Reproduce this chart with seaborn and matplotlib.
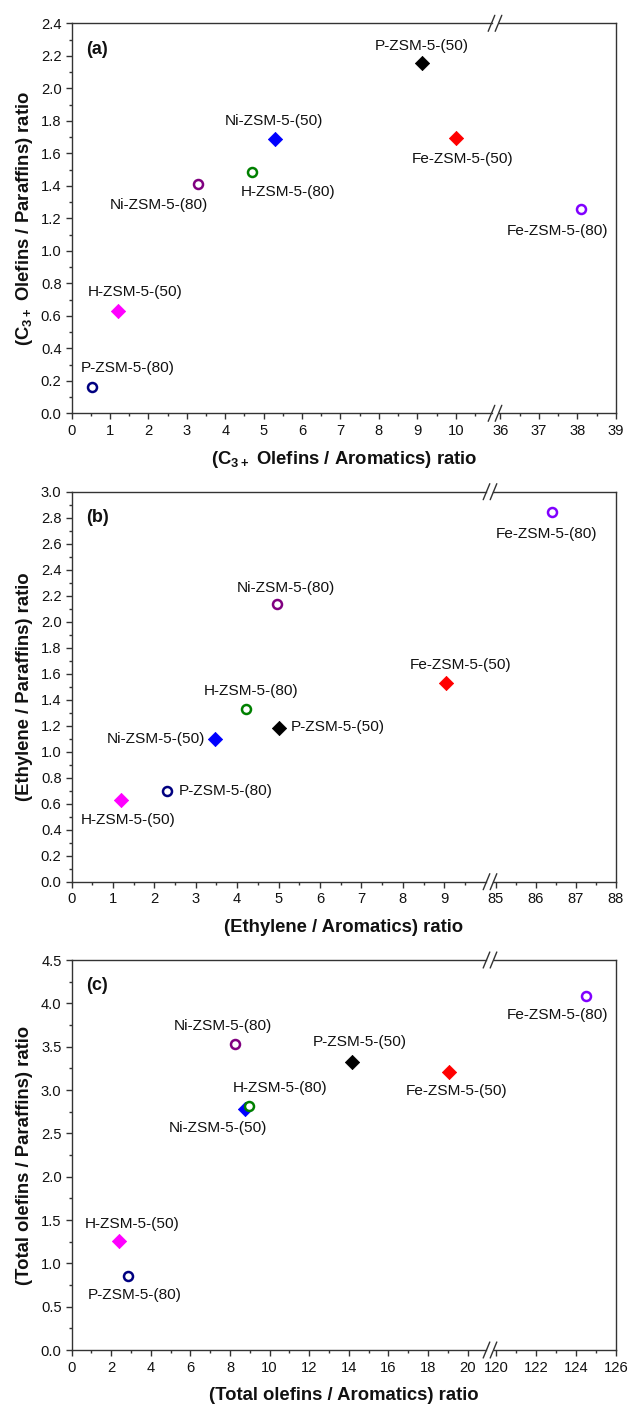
import numpy as np
import matplotlib
matplotlib.use("Agg")
import matplotlib.pyplot as plt
import seaborn as sns
import pandas as pd
from matplotlib.lines import Line2D
from matplotlib.ticker import FixedLocator, FormatStrFormatter

# ---------------------------------------------------------------------------
# Data
# ---------------------------------------------------------------------------
catalysts = ["P-ZSM-5-(50)", "Ni-ZSM-5-(50)", "H-ZSM-5-(50)", "Fe-ZSM-5-(50)",
             "P-ZSM-5-(80)", "Ni-ZSM-5-(80)", "H-ZSM-5-(80)", "Fe-ZSM-5-(80)"]

# (a) C3+ olefins
c3_olefins_aromatics = [9.11, 5.30, 1.21, 10.00, 0.54, 3.28, 4.71, 38.09]
c3_olefins_paraffins = [2.154, 1.686, 0.632, 1.692, 0.164, 1.411, 1.487, 1.255]

# (b) ethylene
ethylene_aromatics = [5.00, 3.46, 1.20, 9.04, 2.30, 4.96, 4.22, 86.41]
ethylene_paraffins = [1.179, 1.095, 0.628, 1.531, 0.700, 2.133, 1.331, 2.841]

# (c) total olefins
total_olefins_aromatics = [14.15, 8.74, 2.42, 19.08, 2.85, 8.27, 8.96, 124.51]
total_olefins_paraffins = [3.327, 2.777, 1.254, 3.212, 0.858, 3.535, 2.815, 4.088]

# ---------------------------------------------------------------------------
# Styling
# ---------------------------------------------------------------------------
colors = {
    "P-ZSM-5-(50)": "#000000", "Ni-ZSM-5-(50)": "#0000FF",
    "H-ZSM-5-(50)": "#FF00FF", "Fe-ZSM-5-(50)": "#FF0000",
    "P-ZSM-5-(80)": "#000080", "Ni-ZSM-5-(80)": "#800080",
    "H-ZSM-5-(80)": "#008000", "Fe-ZSM-5-(80)": "#8000FF",
}
open_marker = {c: c.endswith("(80)") for c in catalysts}

sns.set_style("ticks")
plt.rcParams["font.family"] = ["Liberation Sans", "DejaVu Sans"]
plt.rcParams["mathtext.fontset"] = "custom"
plt.rcParams["mathtext.rm"] = "Liberation Sans"
plt.rcParams["mathtext.bf"] = "Liberation Sans:bold"
plt.rcParams["mathtext.default"] = "bf"

FIG_W, FIG_H = 629, 1406
SPINE = "#333333"
TICK_FS = 10.6
LABEL_FS = 11.1
TITLE_FS = 13.3

fig = plt.figure(figsize=(FIG_W / 100, FIG_H / 100), dpi=100)
fig.patch.set_facecolor("white")


def fx(px):
    return px / FIG_W


def fy(py):
    return 1 - py / FIG_H


# label offsets in pixels (dx, dy upward, horizontal alignment)
label_offsets = {
    "a": {
        "P-ZSM-5-(50)": (0, 17.5, "center"), "Ni-ZSM-5-(50)": (-1, 18.5, "center"),
        "H-ZSM-5-(50)": (17, 18.5, "center"), "Fe-ZSM-5-(50)": (7, -21, "center"),
        "P-ZSM-5-(80)": (35.5, 19, "center"), "Ni-ZSM-5-(80)": (-39, -20.5, "center"),
        "H-ZSM-5-(80)": (36, -20, "center"), "Fe-ZSM-5-(80)": (-23, -21.5, "center"),
    },
    "b": {
        "P-ZSM-5-(50)": (12, 1.5, "left"), "Ni-ZSM-5-(50)": (-10, 0, "right"),
        "H-ZSM-5-(50)": (6.5, -20, "center"), "Fe-ZSM-5-(50)": (14.5, 17.5, "center"),
        "P-ZSM-5-(80)": (11.5, 0, "left"), "Ni-ZSM-5-(80)": (9, 16, "center"),
        "H-ZSM-5-(80)": (4.5, 18, "center"), "Fe-ZSM-5-(80)": (-6, -21.5, "center"),
    },
    "c": {
        "P-ZSM-5-(50)": (8, 20, "center"), "Ni-ZSM-5-(50)": (-27, -18.5, "center"),
        "H-ZSM-5-(50)": (13, 17.5, "center"), "Fe-ZSM-5-(50)": (7, -19.5, "center"),
        "P-ZSM-5-(80)": (7, -19.5, "center"), "Ni-ZSM-5-(80)": (-12.5, 18, "center"),
        "H-ZSM-5-(80)": (31, 18, "center"), "Fe-ZSM-5-(80)": (-29, -19, "center"),
    },
}

panels = [
    dict(tag="a", x=c3_olefins_aromatics, y=c3_olefins_paraffins,
         xlabel="(C$_{3+}$ Olefins / Aromatics) ratio",
         ylabel="(C$_{3+}$ Olefins / Paraffins) ratio",
         top=23.3, bottom=413.3,
         left_px=(71.5, 491.5), right_px=(498.5, 616),
         left_lim=(0, 10.93), right_lim=(35.95, 39),
         left_major=np.arange(0, 11, 1), left_minor=np.arange(0.5, 10.9, 1),
         right_major=np.arange(36, 40, 1), right_minor=np.arange(36.5, 39, 1),
         ylim=(0, 2.4), ymajor=np.arange(0, 2.41, 0.2), yminor=np.arange(0.1, 2.4, 0.2)),
    dict(tag="b", x=ethylene_aromatics, y=ethylene_paraffins,
         xlabel="(Ethylene / Aromatics) ratio",
         ylabel="(Ethylene / Paraffins) ratio",
         top=491.7, bottom=881.7,
         left_px=(71.5, 486.5), right_px=(493.5, 616),
         left_lim=(0, 10.02), right_lim=(84.95, 88),
         left_major=np.arange(0, 10, 1), left_minor=np.arange(0.5, 10, 1),
         right_major=np.arange(85, 89, 1), right_minor=np.arange(85.5, 88, 1),
         ylim=(0, 3.0), ymajor=np.arange(0, 3.01, 0.2), yminor=np.arange(0.1, 3.0, 0.2)),
    dict(tag="c", x=total_olefins_aromatics, y=total_olefins_paraffins,
         xlabel="(Total olefins / Aromatics) ratio",
         ylabel="(Total olefins / Paraffins) ratio",
         top=960, bottom=1350,
         left_px=(71.5, 486.5), right_px=(493.5, 616),
         left_lim=(0, 20.95), right_lim=(119.87, 126),
         left_major=np.arange(0, 21, 2), left_minor=np.arange(1, 20.9, 2),
         right_major=np.arange(120, 127, 2), right_minor=np.arange(121, 126, 2),
         ylim=(0, 4.5), ymajor=np.arange(0, 4.51, 0.5), yminor=np.arange(0.25, 4.5, 0.5)),
]


def style_axis(ax):
    ax.patch.set_visible(False)
    for s in ax.spines.values():
        s.set_color(SPINE)
        s.set_linewidth(1.0)
    ax.tick_params(axis="both", which="major", direction="out", length=4.2,
                   width=1.0, color=SPINE, labelsize=TICK_FS, labelcolor="#111111",
                   top=False, right=False)
    ax.tick_params(axis="both", which="minor", direction="out", length=2.4,
                   width=1.0, color=SPINE, top=False, right=False)
    ax.tick_params(axis="x", which="major", pad=3.5)
    ax.tick_params(axis="y", which="major", pad=3)
    ax.grid(False)


for p in panels:
    h = (p["bottom"] - p["top"]) / FIG_H
    b = fy(p["bottom"])
    axl = fig.add_axes([fx(p["left_px"][0]), b, fx(p["left_px"][1] - p["left_px"][0]), h])
    axr = fig.add_axes([fx(p["right_px"][0]), b, fx(p["right_px"][1] - p["right_px"][0]), h])
    axl.set_zorder(3)
    axr.set_zorder(2)

    df = pd.DataFrame({"catalyst": catalysts, "x": p["x"], "y": p["y"]})
    split = (p["left_lim"][1] + p["right_lim"][0]) / 2

    for _, row in df.iterrows():
        ax = axl if row["x"] < split else axr
        col = colors[row["catalyst"]]
        one = df[df["catalyst"] == row["catalyst"]]
        if open_marker[row["catalyst"]]:
            sns.scatterplot(data=one, x="x", y="y", ax=ax, marker="o", s=42,
                            color=col, facecolor="white", edgecolor=col,
                            linewidth=1.8, legend=False, zorder=4)
        else:
            sns.scatterplot(data=one, x="x", y="y", ax=ax, marker="D", s=52,
                            color=col, edgecolor=col, linewidth=0.6,
                            legend=False, zorder=3)
        dx, dy, ha = label_offsets[p["tag"]][row["catalyst"]]
        ax.annotate(row["catalyst"], xy=(row["x"], row["y"]),
                    xytext=(dx * 0.72, dy * 0.72), textcoords="offset points",
                    ha=ha, va="center", fontsize=LABEL_FS, color="#111111",
                    annotation_clip=False)

    for ax in (axl, axr):
        style_axis(ax)
        ax.set_ylim(*p["ylim"])
        ax.set_xlabel("")
        ax.set_ylabel("")

    axl.set_xlim(*p["left_lim"])
    axr.set_xlim(*p["right_lim"])
    axl.xaxis.set_major_locator(FixedLocator(p["left_major"]))
    axl.xaxis.set_minor_locator(FixedLocator(p["left_minor"]))
    axr.xaxis.set_major_locator(FixedLocator(p["right_major"]))
    axr.xaxis.set_minor_locator(FixedLocator(p["right_minor"]))
    axl.xaxis.set_major_formatter(FormatStrFormatter("%d"))
    axr.xaxis.set_major_formatter(FormatStrFormatter("%d"))

    axl.yaxis.set_major_locator(FixedLocator(p["ymajor"]))
    axl.yaxis.set_minor_locator(FixedLocator(p["yminor"]))
    axl.yaxis.set_major_formatter(FormatStrFormatter("%.1f"))
    axr.tick_params(axis="y", which="both", left=False, labelleft=False)

    axl.spines["right"].set_visible(False)
    axr.spines["left"].set_visible(False)

    # break marks on the top and bottom spines
    for ypx in (p["top"], p["bottom"]):
        for xpx in (p["left_px"][1], p["right_px"][0]):
            fig.add_artist(Line2D([fx(xpx - 3.3), fx(xpx + 3.3)],
                                  [fy(ypx + 8), fy(ypx - 8)],
                                  transform=fig.transFigure, color=SPINE,
                                  linewidth=1.0, clip_on=False))

    # panel tag
    fig.text(fx(86), fy(p["top"] + 26), f"({p['tag']})", ha="left", va="center",
             fontsize=13, fontweight="bold", color="#111111")

    # axis titles
    fig.text(fx((71.5 + 616) / 2), fy(p["bottom"] + 46), p["xlabel"],
             ha="center", va="center", fontsize=TITLE_FS, fontweight="bold",
             color="#111111")
    fig.text(fx(25), fy((p["top"] + p["bottom"]) / 2), p["ylabel"],
             ha="center", va="center", rotation=90, fontsize=TITLE_FS,
             fontweight="bold", color="#111111")

fig.savefig("out.png", dpi=100, facecolor="white")
